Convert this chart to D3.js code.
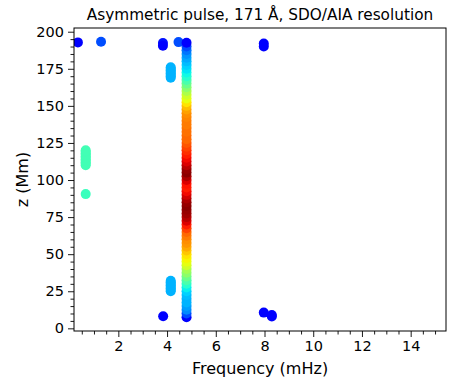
<!DOCTYPE html>
<html>
<head>
<meta charset="utf-8">
<script src="https://cdn.jsdelivr.net/npm/d3@7"></script>
<style>
  body { margin: 0; background: #fff; }
  text { font-family: "DejaVu Sans", sans-serif; fill: #000; }
</style>
</head>
<body>
<div id="chart"></div>
<script>
// main column (f = 4.8 mHz): heights and normalised power
const columnFreq = 4.8;
const columnZ = [7.5, 10, 12.5, 15, 17.5, 20, 22.5, 25, 27.5, 30, 32.5, 35, 37.5, 40, 42.5, 45, 47.5, 50,
  52.5, 55, 57.5, 60, 62.5, 65, 67.5, 70, 72.5, 75, 77.5, 80, 82.5, 85, 87.5, 90, 92.5, 95, 97.5, 100,
  102.5, 105, 107.5, 110, 112.5, 115, 117.5, 120, 122.5, 125, 127.5, 130, 132.5, 135, 137.5, 140, 142.5,
  145, 147.5, 150, 152.5, 155, 157.5, 160, 162.5, 165, 167.5, 170, 172.5, 175, 177.5, 180, 182.5, 185,
  187.5, 190, 192.5];
const columnPower = [0.12, 0.2, 0.26, 0.28, 0.3, 0.3, 0.31, 0.33, 0.36, 0.40, 0.44, 0.48, 0.52, 0.55, 0.6,
  0.63, 0.65, 0.67, 0.70, 0.73, 0.75, 0.76, 0.78, 0.80, 0.84, 0.88, 0.92, 0.95, 0.97, 0.98, 0.99, 0.98,
  0.96, 0.93, 0.90, 0.88, 0.89, 0.92, 0.96, 0.99, 0.98, 0.95, 0.92, 0.90, 0.88, 0.86, 0.84, 0.82, 0.80,
  0.80, 0.79, 0.79, 0.78, 0.78, 0.77, 0.76, 0.74, 0.71, 0.67, 0.63, 0.60, 0.56, 0.52, 0.48, 0.44, 0.40,
  0.37, 0.35, 0.33, 0.31, 0.29, 0.27, 0.24, 0.2, 0.12];

// other detected peaks: frequency (mHz), height (Mm), power
const peakFreq  = [0.66,
  0.66, 0.66, 0.66, 0.66, 0.66, 0.66, 0.66, 0.66, 0.66, 0.66, 0.66,
  0.34, 1.29, 3.83, 3.83, 4.47, 7.97, 7.97,
  4.15, 4.15, 4.15, 4.15, 4.15, 4.15, 4.15, 4.15,
  4.15, 4.15, 4.15, 4.15, 4.15, 4.15, 4.15, 4.15,
  3.84, 7.97, 8.3, 8.3];
const peakZ     = [90.5,
  110, 111, 112, 113, 114, 115, 116, 117, 118, 119, 120,
  192.8, 193.2, 192.4, 190.5, 193, 192, 190,
  169, 170, 171, 172, 173, 174, 175, 176,
  25, 26, 27, 28, 29, 30, 31, 32,
  8.1, 10.6, 8, 9];
const peakPower = [0.42,
  0.43, 0.43, 0.43, 0.43, 0.43, 0.43, 0.43, 0.43, 0.43, 0.43, 0.43,
  0.12, 0.2, 0.14, 0.12, 0.2, 0.12, 0.12,
  0.3, 0.3, 0.3, 0.3, 0.3, 0.3, 0.3, 0.3,
  0.3, 0.3, 0.3, 0.3, 0.3, 0.3, 0.3, 0.3,
  0.12, 0.12, 0.12, 0.12];

const xTicks = [2, 4, 6, 8, 10, 12, 14];
const yTicks = [0, 25, 50, 75, 100, 125, 150, 175, 200];

const width = 451, height = 381;
const margin = { top: 28, right: 5, bottom: 50, left: 74 };
const w = width - margin.left - margin.right, h = height - margin.top - margin.bottom;

const svg = d3.select("#chart").append("svg")
  .attr("width", width).attr("height", height);
const g = svg.append("g").attr("transform", `translate(${margin.left},${margin.top})`);

const x = d3.scaleLinear().domain([0.18, 15.45]).range([0, w]);
const y = d3.scaleLinear().domain([-1.8, 202.5]).range([h, 0]);

// jet colormap
const jr = d3.scaleLinear().domain([0, 0.35, 0.66, 0.89, 1]).range([0, 0, 1, 1, 0.5]).clamp(true);
const jg = d3.scaleLinear().domain([0, 0.125, 0.375, 0.64, 0.91, 1]).range([0, 0, 1, 1, 0, 0]).clamp(true);
const jb = d3.scaleLinear().domain([0, 0.11, 0.34, 0.65, 1]).range([0.5, 1, 1, 0, 0]).clamp(true);
const jet = v => d3.rgb(jr(v) * 255, jg(v) * 255, jb(v) * 255).toString();

svg.append("clipPath").attr("id", "clip")
  .append("rect").attr("width", w).attr("height", h);

const pts = g.append("g").attr("clip-path", "url(#clip)");

const peaks = peakFreq.map((f, i) => ({ f: f, z: peakZ[i], p: peakPower[i] }));
const column = columnZ.map((z, i) => ({ f: columnFreq, z: z, p: columnPower[i] }));

pts.selectAll(".peak").data(peaks).enter().append("circle")
  .attr("cx", d => x(d.f)).attr("cy", d => y(d.z)).attr("r", 5)
  .attr("fill", d => jet(d.p));

pts.selectAll(".col").data(column).enter().append("circle")
  .attr("cx", d => x(d.f)).attr("cy", d => y(d.z)).attr("r", 5)
  .attr("fill", d => jet(d.p));

// axes
const xAxis = g.append("g").attr("transform", `translate(0,${h})`)
  .call(d3.axisBottom(x).tickValues(xTicks).tickSize(6).tickPadding(4).tickFormat(d3.format("d")));
const xMinor = g.append("g").attr("transform", `translate(0,${h})`)
  .call(d3.axisBottom(x).tickValues(d3.range(0.5, 15.5, 0.5).filter(v => v % 2 !== 0)).tickSize(3.5).tickFormat(""));
const yAxis = g.append("g")
  .call(d3.axisLeft(y).tickValues(yTicks).tickSize(6).tickPadding(4));
const yMinor = g.append("g")
  .call(d3.axisLeft(y).tickValues(d3.range(0, 205, 5).filter(v => v % 25 !== 0)).tickSize(3.5).tickFormat(""));

[xAxis, xMinor, yAxis, yMinor].forEach(a => {
  a.select(".domain").remove();
  a.selectAll("line").attr("stroke", "#000").attr("stroke-width", 0.9);
  a.selectAll("text").style("font-size", "14.5px").attr("fill", "#000");
});

g.append("rect").attr("width", w).attr("height", h)
  .attr("fill", "none").attr("stroke", "#000").attr("stroke-width", 1);

g.append("text")
  .attr("x", w / 2).attr("y", -8)
  .attr("text-anchor", "middle")
  .style("font-size", "15.3px")
  .text("Asymmetric pulse, 171 Å, SDO/AIA resolution");

g.append("text")
  .attr("x", w / 2).attr("y", h + 43)
  .attr("text-anchor", "middle")
  .style("font-size", "16px")
  .text("Frequency (mHz)");

g.append("text")
  .attr("transform", "rotate(-90)")
  .attr("x", -h / 2).attr("y", -46)
  .attr("text-anchor", "middle")
  .style("font-size", "16px")
  .text("z (Mm)");
</script>
</body>
</html>
